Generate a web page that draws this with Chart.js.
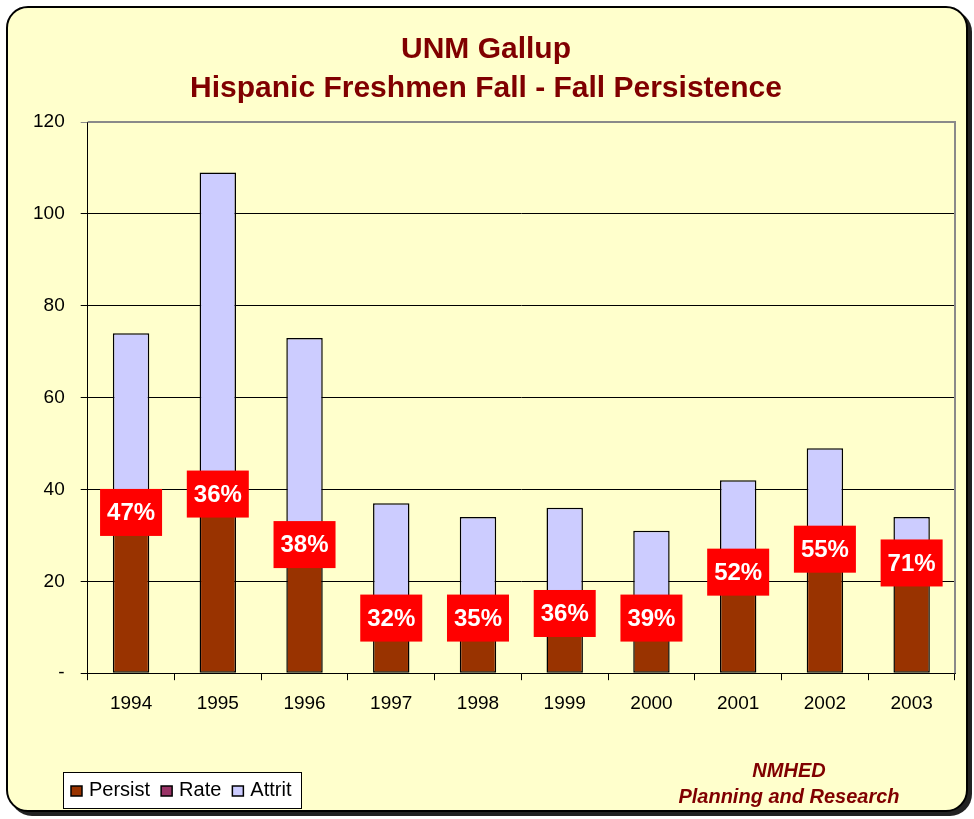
<!DOCTYPE html>
<html>
<head>
<meta charset="utf-8">
<title>UNM Gallup - Hispanic Freshmen Fall - Fall Persistence</title>
<script src="https://cdn.jsdelivr.net/npm/chart.js@4.4.1/dist/chart.umd.min.js"></script>
<style>
    body { margin: 0; background: #ffffff; }
    #wrap { position: relative; width: 974px; height: 819px; }
    #frame {
        position: absolute; left: 6px; top: 6px; width: 958px; height: 802px;
        border: 2px solid #000; border-radius: 22px; background: #FFFFCC;
        box-shadow: 4px 4px 0 #222;
    }
    #box { position: absolute; left: 0; top: 0; width: 974px; height: 819px; }
</style>
</head>
<body>
<div id="wrap">
    <div id="frame"></div>
    <div id="box"><canvas id="persistChart"></canvas></div>
</div>
<script>
// données
const years = ['1994', '1995', '1996', '1997', '1998', '1999', '2000', '2001', '2002', '2003'];
const persist = [35, 39, 28, 12, 12, 13, 12, 22, 27, 24];
const attrit = [39, 70, 45, 25, 22, 23, 19, 20, 22, 10];
const rate = ['47%', '36%', '38%', '32%', '35%', '36%', '39%', '52%', '55%', '71%'];
const yTicks = [0, 20, 40, 60, 80, 100, 120];

const FONT = "'Liberation Sans', Arial, sans-serif";
const maroon = '#800000';

// étiquettes rouges avec le taux, centrées sur le haut de la barre Persist
const rateLabels = {
    id: 'rateLabels',
    afterDatasetsDraw(chart) {
        const ctx = chart.ctx;
        const meta = chart.getDatasetMeta(0);
        const rateSet = chart.data.datasets[2];
        ctx.save();
        ctx.font = 'bold 24px ' + FONT;
        ctx.textAlign = 'center';
        ctx.textBaseline = 'middle';
        meta.data.forEach((bar, i) => {
            const w = 62, h = 47;
            ctx.fillStyle = '#FF0000';
            ctx.fillRect(bar.x - w / 2, bar.y - h / 2, w, h);
            ctx.fillStyle = '#ffffff';
            ctx.fillText(rateSet.labelsText[i], bar.x, bar.y + 1);
        });
        ctx.restore();
    }
};

// bordure grise en haut et à droite de la zone de tracé
const plotBorder = {
    id: 'plotBorder',
    beforeDatasetsDraw(chart) {
        const a = chart.chartArea;
        const ctx = chart.ctx;
        ctx.save();
        ctx.strokeStyle = '#8a8a8a';
        ctx.lineWidth = 2;
        ctx.beginPath();
        ctx.moveTo(a.left, a.top);
        ctx.lineTo(a.right, a.top);
        ctx.lineTo(a.right, a.bottom);
        ctx.stroke();
        ctx.restore();
    }
};

// légende encadrée en bas à gauche + texte NMHED
const boxLegend = {
    id: 'boxLegend',
    afterDraw(chart) {
        const ctx = chart.ctx;
        ctx.save();
        ctx.fillStyle = '#ffffff';
        ctx.fillRect(63, 772, 238, 36);
        ctx.strokeStyle = '#000';
        ctx.lineWidth = 1;
        ctx.strokeRect(63.5, 772.5, 238, 36);

        ctx.font = '20px ' + FONT;
        ctx.textBaseline = 'middle';
        ctx.textAlign = 'left';
        let x = 71;
        const order = [0, 2, 1];
        order.forEach(idx => {
            const ds = chart.data.datasets[idx];
            ctx.fillStyle = ds.legendColor;
            ctx.fillRect(x, 786, 11, 10);
            ctx.strokeStyle = '#000';
            ctx.lineWidth = 1.5;
            ctx.strokeRect(x, 786, 11, 10);
            ctx.fillStyle = '#000';
            ctx.fillText(ds.label, x + 18, 790);
            x += 18 + ctx.measureText(ds.label).width + 11;
        });

        ctx.fillStyle = maroon;
        ctx.font = 'italic bold 20px ' + FONT;
        ctx.textAlign = 'center';
        ctx.fillText('NMHED', 789, 771);
        ctx.fillText('Planning and Research', 789, 797);
        ctx.restore();
    }
};

function initializeChart() {
    const ctx = document.getElementById('persistChart').getContext('2d');
    new Chart(ctx, {
        type: 'bar',
        data: {
            labels: years,
            datasets: [
                {
                    label: 'Persist',
                    data: persist,
                    backgroundColor: '#993300',
                    legendColor: '#993300',
                    borderColor: '#000',
                    borderWidth: 1.5,
                    borderSkipped: false,
                    barPercentage: 0.42,
                    categoryPercentage: 1,
                    order: 2
                },
                {
                    label: 'Attrit',
                    data: attrit,
                    backgroundColor: '#CCCCFF',
                    legendColor: '#CCCCFF',
                    borderColor: '#000',
                    borderWidth: 1.5,
                    borderSkipped: false,
                    barPercentage: 0.42,
                    categoryPercentage: 1,
                    order: 3
                },
                {
                    // série « Rate » : sans barre visible, seulement ses étiquettes
                    type: 'line',
                    label: 'Rate',
                    data: rate.map(r => parseFloat(r)),
                    labelsText: rate,
                    legendColor: '#993366',
                    showLine: false,
                    pointRadius: 0,
                    yAxisID: 'yRate',
                    order: 1
                }
            ]
        },
        options: {
            responsive: true,
            maintainAspectRatio: false,
            animation: false,
            layout: { padding: { left: 17, right: 19, top: 0, bottom: 92 } },
            plugins: {
                legend: { display: false },
                tooltip: { enabled: false },
                title: {
                    display: true,
                    text: ['UNM Gallup', 'Hispanic Freshmen Fall - Fall Persistence'],
                    color: maroon,
                    font: { family: FONT, size: 30, weight: 'bold', lineHeight: 1.3 },
                    padding: { top: 30, bottom: 14 }
                }
            },
            scales: {
                x: {
                    stacked: true,
                    border: { color: '#000', width: 1 },
                    grid: {
                        offset: true,
                        drawOnChartArea: false,
                        drawTicks: true,
                        tickLength: 7,
                        color: '#000'
                    },
                    ticks: { color: '#000', padding: 12, font: { family: FONT, size: 19 } }
                },
                y: {
                    stacked: true,
                    min: 0,
                    max: 120,
                    afterBuildTicks(scale) {
                        scale.ticks = yTicks.map(v => ({ value: v }));
                    },
                    border: { color: '#000', width: 1 },
                    grid: {
                        color: ctx => ctx.tick && ctx.tick.value === 120 ? '#8a8a8a' : '#000',
                        tickLength: 7
                    },
                    ticks: {
                        color: '#000',
                        padding: 16,
                        font: { family: FONT, size: 19 },
                        callback: v => v === 0 ? '-' : v
                    }
                },
                yRate: { display: false, min: 0, max: 100 }
            }
        },
        plugins: [plotBorder, rateLabels, boxLegend]
    });
}

window.onload = function() {
    initializeChart();
};
</script>
</body>
</html>
